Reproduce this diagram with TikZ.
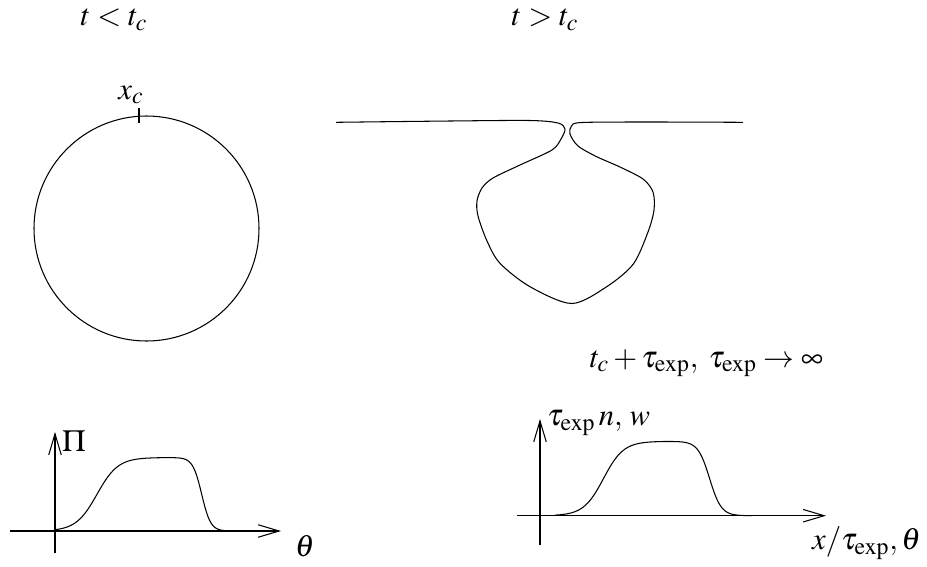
\documentclass[tikz,border=0pt]{standalone}
\usepackage{mathptmx}
\usepackage{tikz}
\usetikzlibrary{arrows.meta,positioning}
\DeclareMathSizes{17.5}{17.5}{13.5}{11}
\definecolor{ink}{HTML}{000000}
\tikzset{
  curve/.style={draw=ink,line width=0.6pt,line join=round},
  axis/.style={-{Straight Barb[length=4.2mm,width=2.5mm]},line width=0.6pt,draw=ink},
  lbl/.style={font=\fontsize{17.5}{20}\selectfont,text=ink,inner sep=1pt},
  declare function={sg(\u)=0.5*(1+tanh(max(-4,min(4,\u))));}
}
\begin{document}
\begin{tikzpicture}[x=0.02cm,y=-0.02cm]
    \useasboundingbox (0,0) rectangle (927,566);

    % titles
    \node[lbl] (before) at (114,20) {$t<t_c$};
    \node[lbl] (after) at (545,20) {$t>t_c$};

    % closed interface before pinch-off
    \draw[curve] (146.5,228.5) circle[radius=112.5];
    \coordinate (tickhi) at (139,108);
    \coordinate (ticklo) at (139,123);
    \draw[curve] (tickhi) -- (ticklo);
    \node[lbl] (xc) at (131,95) {$x_c$};

    % interface after pinch-off
    \draw[curve] plot[smooth,tension=0.5] coordinates {
      (336,122.3) (450,121) (530,120.5) (558,123) (565,129) (561,139) (552,150)
      (520,165) (493,178) (482,188) (477,201) (478,216)
      (487,241) (500,263.3) (530,286.7) (571.7,303.5) (606.7,286.7) (633.3,264)
      (648,232) (654,210) (653,192) (643,179) (620,167) (596.7,156.7)
      (578,146) (570,134) (571.5,126) (582,122.5) (650,122) (743,122.3)};

    % left profile
    \coordinate (lxs) at (10,531);
    \coordinate (lxe) at (281,531);
    \coordinate (lys) at (55,553);
    \coordinate (lye) at (55,432);
    \draw[axis] (lxs) -- (lxe);
    \draw[axis] (lys) -- (lye);
    \draw[curve] plot[domain=55:245,samples=120]
      (\x,{531-73.5*sg((\x-97)/21)*sg((201.7-\x)/8.9)});
    \node[lbl] (pi) at (74,441) {$\Pi$};
    \node[lbl] (theta) at (305,546) {$\theta$};

    % right profile
    \node[lbl] (limit) at (706.5,363) {$t_c+\tau_{\mathrm{exp}},\;\tau_{\mathrm{exp}}\rightarrow\infty$};
    \coordinate (rxs) at (516.7,515.7);
    \coordinate (rxe) at (826,515.7);
    \coordinate (rys) at (540,545);
    \coordinate (rye) at (540,419);
    \draw[axis] (rxs) -- (rxe);
    \draw[axis] (rys) -- (rye);
    \draw[curve] plot[domain=555:752,samples=120]
      (\x,{515.7-74.4*sg((\x-603.5)/20)*sg((709.6-\x)/11.6)});
    \node[lbl,anchor=west] (ylab) at (545,423) {$\tau_{\mathrm{exp}}\,n,\,w$};
    \node[lbl,anchor=east] (xlab) at (923,543) {$x/\tau_{\mathrm{exp}},\theta$};
\end{tikzpicture}
\end{document}
